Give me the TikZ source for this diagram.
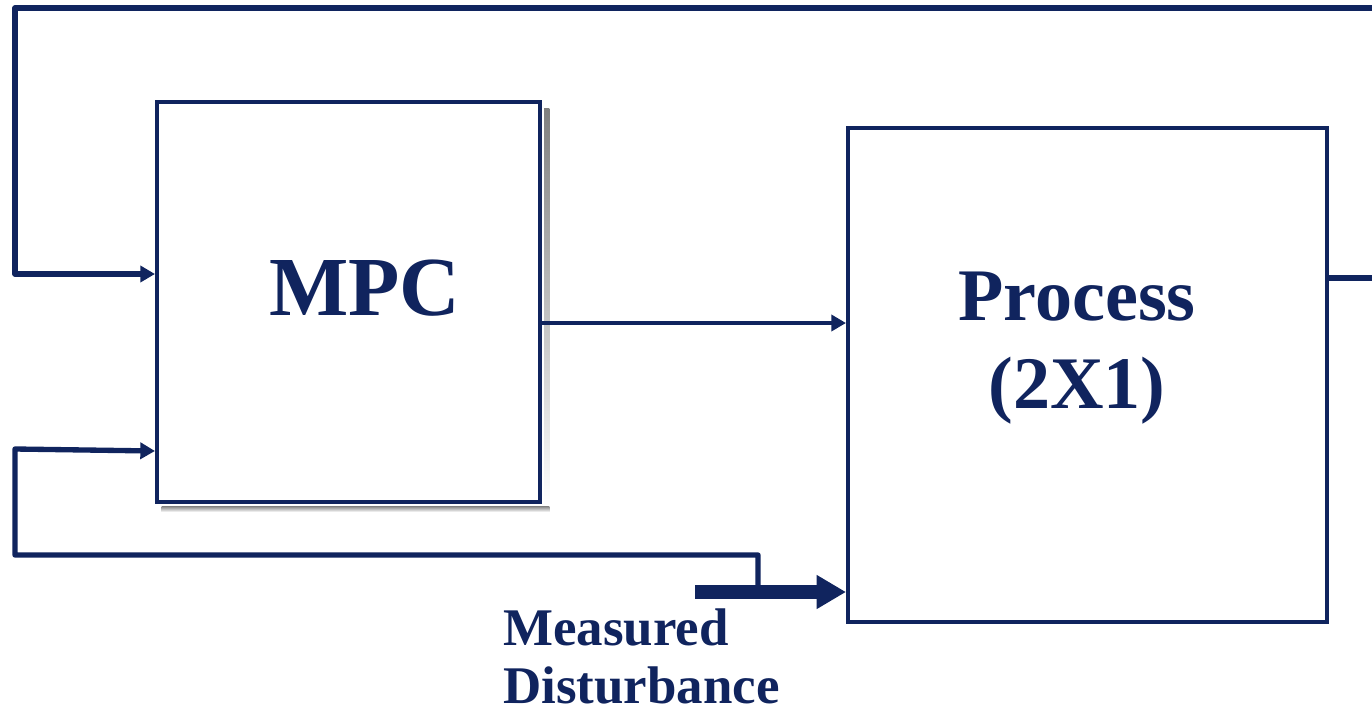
\documentclass[tikz,border=0pt]{standalone}
\usepackage{fontspec}
\setmainfont{Liberation Serif}
\usetikzlibrary{arrows.meta}
\definecolor{navy}{RGB}{16,36,94}
\definecolor{shade}{RGB}{150,150,150}
\tikzset{
  blockbox/.style={draw=navy, line width=3pt, fill=white, inner sep=0pt},
  wire/.style={draw=navy, line width=4pt, line join=round},
  thinarrow/.style={wire, -{Triangle[length=11pt,width=12pt]}},
  bigarrow/.style={draw=navy, line width=11pt, -{Triangle[length=22pt,width=24pt]}},
  lbl/.style={text=navy, font=\bfseries, inner sep=0pt}
}
\begin{document}
\begin{tikzpicture}[x=0.75pt,y=-0.75pt]
\useasboundingbox (0,0) rectangle (1372,715);
\node[blockbox, minimum width=287.25pt, minimum height=300pt] (mpc) at (348.5,302) {};
% shadow of MPC (right and bottom strips)
\fill[shade] ([shift={(1.5pt,-1.5pt)}]mpc.south west -| mpc.east) rectangle ([shift={(5.5pt,-6pt)}]mpc.north east);
\fill[shade] ([shift={(5pt,-1.5pt)}]mpc.south west) rectangle ([shift={(5.5pt,-6pt)}]mpc.south east);
\node[blockbox, minimum width=359.25pt, minimum height=370.5pt] (proc) at (1087.5,375) {};
\node[lbl, font=\bfseries\fontsize{63}{70}\selectfont, anchor=base] (mpctext) at (365,315) {MPC};
\node[lbl, font=\bfseries\fontsize{55.6}{62}\selectfont, anchor=base] (proctext) at (1077,320) {Process};
\node[lbl, font=\bfseries\fontsize{55.6}{62}\selectfont, anchor=base] (proctext2) at (1077,408) {(2X1)};
\node[lbl, font=\bfseries\fontsize{39.7}{45}\selectfont, anchor=base west] (md1) at (503,645) {Measured};
\node[lbl, font=\bfseries\fontsize{39.7}{45}\selectfont, anchor=base west] (md2) at (503,703) {Disturbance};
% coordinates
\coordinate (tr) at (1380,8);
\coordinate (tl) at (15,8);
\coordinate (ml) at (15,274);
\coordinate (outr) at (1380,278);
\coordinate (mo) at (540,323);
\coordinate (lb1) at (758,592);
\coordinate (lb2) at (758,555);
\coordinate (lb3) at (15,555);
\coordinate (lb4) at (15,449);
\coordinate (dist) at (695,592);
% connectors
\draw[thinarrow] (tr) -- (tl) -- (ml) -- (mpc.west |- ml);
\draw[wire] (proc.east |- outr) -- (outr);
\draw[thinarrow] (lb1) -- (lb2) -- (lb3) -- (lb4) -- ([yshift=-1.5pt]mpc.west |- lb4);
\draw[thinarrow, line width=3pt] (mpc.east |- mo) -- (proc.west |- mo);
\draw[bigarrow] (dist) -- (proc.west |- dist);
\end{tikzpicture}
\end{document}
